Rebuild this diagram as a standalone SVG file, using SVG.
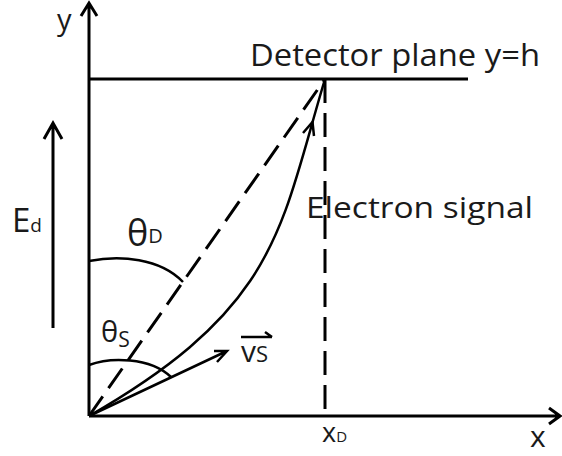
<svg xmlns="http://www.w3.org/2000/svg" width="562" height="456" viewBox="0 0 562 456">
<style>
.ln{fill:none;stroke:#000;stroke-width:3;stroke-linecap:butt;stroke-linejoin:miter}
.thin{fill:none;stroke:#000;stroke-width:2.5}
.dash{fill:none;stroke:#000;stroke-width:3;stroke-dasharray:24 10}
.t{font-family:"Open Sans","Liberation Sans",sans-serif;fill:#1a1a1a}
</style>
<rect width="562" height="456" fill="#fff"/>
<g id="axes">
<path class="ln" d="M89,416 V3 M81,16 L89,3 L97,16"/>
<path class="ln" d="M89,416 H560 M549,408 L560,416 L549,424"/>
<text class="t" x="57" y="30" font-size="29">y</text>
<text class="t" x="530" y="447" font-size="30">x</text>
</g>
<g id="detector">
<path class="ln" d="M89,79 H468"/>
<text class="t" x="250" y="66" font-size="31" textLength="290" lengthAdjust="spacingAndGlyphs">Detector plane y=h</text>
</g>
<g id="field">
<path class="ln" d="M53,328 V123 M44,139 L53,123 L62,139"/>
<text class="t" x="12" y="232" font-size="33">E<tspan font-size="19">d</tspan></text>
</g>
<g id="connectors">
<path class="dash" d="M89,416 L325,79"/>
<path class="dash" d="M325,79 V416"/>
<path class="thin" d="M89,416 C279,307 280,229 325,79"/>
<path class="thin" d="M303,133 L312.5,122 L314,136"/>
<path class="thin" d="M89,416 L227,351 M214,351 L227,351 L217,362"/>
<path class="thin" d="M89,261 C120,255 160,258 183,282"/>
<path class="thin" d="M89,365 C110,357 150,357 171,377"/>
</g>
<g id="labels">
<text class="t" x="127" y="246" font-size="36">θ<tspan font-size="20" dy="-3">D</tspan></text>
<text class="t" x="101" y="342" font-size="29">θ<tspan font-size="21" dy="5">S</tspan></text>
<text class="t" x="306" y="218" font-size="30" textLength="227" lengthAdjust="spacingAndGlyphs">Electron signal</text>
<text class="t" x="241" y="362" font-size="30">v<tspan font-size="22">S</tspan></text>
<path class="thin" d="M241,337 H272 M265,332 L272,337"/>
<text class="t" x="322" y="442" font-size="27">x<tspan font-size="15">D</tspan></text>
</g>
</svg>
